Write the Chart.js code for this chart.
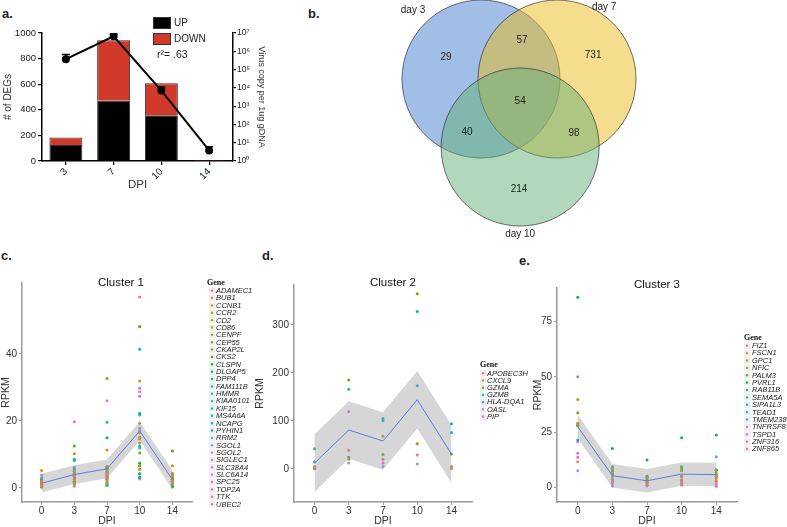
<!DOCTYPE html>
<html><head><meta charset="utf-8"><title>DEG figure</title>
<script src="https://cdn.jsdelivr.net/npm/chart.js@4.4.1/dist/chart.umd.min.js"></script>
<style>
html,body{margin:0;padding:0;background:#fff;}
body{width:787px;height:527px;position:relative;overflow:hidden;font-family:"Liberation Sans",Arial,sans-serif;}
canvas{position:absolute;}
.plbl{position:absolute;font:bold 13px/13px "Liberation Sans",Arial,sans-serif;color:#222;}
</style></head><body>
<div class="plbl" style="left:2px;top:7px">a.</div>
<div class="plbl" style="left:308px;top:7px">b.</div>
<div class="plbl" style="left:1px;top:249px">c.</div>
<div class="plbl" style="left:262px;top:249px">d.</div>
<div class="plbl" style="left:519px;top:254px">e.</div>
<canvas id="ca" width="270" height="200" style="left:0;top:0"></canvas>
<canvas id="cb" width="260" height="245" style="left:390px;top:0"></canvas>
<canvas id="cc" width="260" height="277" style="left:0;top:250px"></canvas>
<canvas id="cd" width="276" height="277" style="left:254px;top:250px"></canvas>
<canvas id="ce" width="255" height="277" style="left:532px;top:250px"></canvas>
<script>
// ================= DATA =================
// Panel a
const dpiA = ['3', '7', '10', '14'];
const degUp = [125, 470, 358, 4];
const degDown = [58, 473, 250, 3];
const virusCopy = [3.7e5, 6.6e6, 7.1e3, 3.8];
const virusCopyUpper = [6.7e5, 8.9e6, 1.1e4, 6.0];
const degTicks = [0, 200, 400, 600, 800, 1000];
const virusTickExp = [0, 1, 2, 3, 4, 5, 6, 7];
const r2Label = 'r\u00B2= .63';

// Panel b (Venn)
const vennSets = ['day 3', 'day 7', 'day 10'];
const vennRegions = ['day 3 only', 'day 7 only', 'day 10 only', 'day 3 & 7', 'day 3 & 10', 'day 7 & 10', 'all three'];
const vennCounts = [29, 731, 214, 57, 40, 98, 54];

// Panels c-e
const dpiC = ['0', '3', '7', '10', '14'];

const genes1 = ['ADAMEC1','BUB1','CCNB1','CCR2','CD2','CD86','CENPF','CEP55','CKAP2L','CKS2','CLSPN','DLGAP5','DPP4','FAM111B','HMMR','KIAA0101','KIF15','MS4A6A','NCAPG','PYHIN1','RRM2','SGOL1','SGOL2','SIGLEC1','SLC38A4','SLC6A14','SPC25','TOP2A','TTK','UBEC2'];
const rpkm1 = [
  [1.0, 2.5, 3.2, 16.5, 2.0], [1.2, 3.5, 4.3, 13.4, 3.5], [2.0, 10.2, 11.3, 31.9, 6.6], [0.5, 1.5, 2.5, 19.3, 1.0],
  [5.2, 5.0, 6.4, 15.1, 4.3], [1.5, 1.0, 1.5, 5.6, 2.0], [1.0, 2.5, 3.8, 14.6, 1.5], [0.5, 4.0, 5.4, 6.6, 2.7],
  [1.8, 5.4, 32.7, 10.4, 4.0], [2.2, 12.5, 6.0, 48.2, 11.0], [1.0, 3.0, 15.0, 7.4, 2.5], [0.7, 1.8, 5.9, 4.2, 3.0],
  [0.3, 2.0, 1.0, 3.2, 0.5], [1.2, 8.6, 3.2, 22.3, 1.5], [2.5, 4.8, 4.7, 11.9, 3.5], [1.5, 8.2, 19.6, 21.8, 2.0],
  [0.4, 1.2, 0.7, 12.5, 0.3], [3.0, 6.0, 6.4, 3.2, 4.0], [1.0, 5.0, 4.5, 41.4, 2.7], [0.6, 1.5, 2.5, 6.6, 1.0],
  [1.2, 4.3, 5.6, 17.8, 3.0], [0.3, 2.0, 3.0, 13.4, 1.5], [1.0, 0.5, 2.0, 4.2, 0.8], [2.0, 3.5, 1.5, 5.6, 4.3],
  [1.0, 4.0, 26.0, 28.7, 2.0], [0.8, 19.8, 3.0, 2.7, 1.2], [3.8, 3.0, 4.0, 29.8, 3.5], [0.5, 2.5, 5.0, 27.4, 2.0],
  [1.0, 4.0, 3.5, 17.0, 2.5], [1.8, 6.0, 5.8, 57.0, 3.0]
];
const fit1 = [1.4, 4.0, 5.7, 17.0, 2.5];
const fitLo1 = [-1.4, 1.2, 2.9, 14.2, -0.3];
const fitHi1 = [4.2, 6.8, 8.5, 19.8, 5.3];
const yTicks1 = [0, 20, 40];

const genes2 = ['APOBEC3H','CXCL9','GZMA','GZMB','HLA-DQA1','OASL','PIP'];
const rpkm2 = [
  [4, 39, 20, 29, 5], [5, 20, 68, 53, 3], [2, 185, 30, 365, 31], [42, 24, 100, 328, 94],
  [15, 166, 105, 173, 76], [0, 12, 5, 10, 0], [1, 119, 12, 52, 2]
];
const fit2 = [12, 81, 58, 144, 31];
const fitLo2 = [-48, 21, -2, 84, -29];
const fitHi2 = [72, 141, 118, 204, 91];
const yTicks2 = [0, 100, 200, 300];

const genes3 = ['FIZ1','FSCN1','GPC1','NFIC','PALM3','PVRL1','RAB11B','SEMA5A','SIPA1L3','TEAD1','TMEM238','TNFRSF8','TSPD1','ZNF316','ZNF865'];
const rpkm3 = [
  [11.6, 2.6, 1.0, 1.5, 4.8], [29.0, 6.0, 2.6, 4.8, 4.0], [28.5, 4.8, 2.0, 3.3, 3.0], [39.8, 8.6, 4.5, 7.5, 6.6],
  [33.8, 7.8, 3.3, 8.6, 7.8], [86.0, 17.6, 12.4, 22.5, 23.7], [28.0, 6.0, 3.3, 4.8, 5.0], [28.2, 9.4, 5.1, 9.4, 6.0],
  [28.0, 8.6, 5.1, 9.0, 8.0], [21.4, 7.1, 4.2, 7.5, 7.8], [50.0, 3.6, 2.6, 5.0, 13.9], [7.5, 0.6, 0.6, 1.0, 0.5],
  [15.4, 1.5, 1.0, 1.8, 0.6], [20.7, 2.6, 1.8, 2.6, 1.5], [13.6, 3.6, 2.5, 3.3, 2.6]
];
const fit3 = [27.4, 5.3, 3.0, 6.0, 5.8];
const fitLo3 = [22.1, 0.0, -2.3, 0.7, 0.5];
const fitHi3 = [32.7, 10.6, 8.3, 11.3, 11.1];
const yTicks3 = [0, 25, 50, 75];

// ================= HELPERS =================
const FONT = '"Liberation Sans", Arial, sans-serif';
Chart.defaults.font.family = FONT;
Chart.defaults.color = '#222';

function hcl2hex(h, c, l) {
  const hr = h * Math.PI / 180, u = c * Math.cos(hr), v = c * Math.sin(hr);
  const Xn = 95.047, Yn = 100, Zn = 108.883;
  const un = 4 * Xn / (Xn + 15 * Yn + 3 * Zn), vn = 9 * Yn / (Xn + 15 * Yn + 3 * Zn);
  const Y = l > 8 ? Yn * Math.pow((l + 16) / 116, 3) : Yn * l / 903.3;
  const up = u / (13 * l) + un, vp = v / (13 * l) + vn;
  const X = Y * 9 * up / (4 * vp), Z = Y * (12 - 3 * up - 20 * vp) / (4 * vp);
  const x = X / 100, y = Y / 100, z = Z / 100;
  const lin = [3.2404542 * x - 1.5371385 * y - 0.4985314 * z,
               -0.9692660 * x + 1.8760108 * y + 0.0415560 * z,
               0.0556434 * x - 0.2040259 * y + 1.0572252 * z];
  return '#' + lin.map(cc => {
    let s = cc <= 0.0031308 ? 12.92 * cc : 1.055 * Math.pow(cc, 1 / 2.4) - 0.055;
    s = Math.max(0, Math.min(1, s));
    return Math.round(s * 255).toString(16).padStart(2, '0');
  }).join('');
}
function huePal(n) { const o = []; for (let i = 0; i < n; i++) o.push(hcl2hex(15 + 360 * i / n, 100, 65)); return o; }
const SUP = '\u2070\u00B9\u00B2\u00B3\u2074\u2075\u2076\u2077\u2078\u2079';

// ================= PANEL A =================
const panelAPlugin = {
  id: 'panelA',
  afterDatasetsDraw(chart) {
    const ctx = chart.ctx, xs = chart.scales.x, yr = chart.scales.yR;
    ctx.save();
    ctx.strokeStyle = '#000'; ctx.lineWidth = 1.5;
    virusCopy.forEach((v, i) => {
      const x = xs.getPixelForValue(i), y0 = yr.getPixelForValue(v), y1 = yr.getPixelForValue(virusCopyUpper[i]);
      ctx.beginPath(); ctx.moveTo(x, y0); ctx.lineTo(x, y1); ctx.moveTo(x - 4, y1); ctx.lineTo(x + 4, y1); ctx.stroke();
    });
    const bars = chart.data.datasets.filter(d => d.type === 'bar');
    bars.forEach((d, k) => {
      const y = 17 + k * 16;
      ctx.fillStyle = d.backgroundColor; ctx.fillRect(153, y, 17, 11);
      ctx.strokeStyle = '#333'; ctx.lineWidth = 1; ctx.strokeRect(153.5, y + 0.5, 17, 11);
      ctx.fillStyle = '#222'; ctx.font = '10px ' + FONT; ctx.textBaseline = 'middle'; ctx.textAlign = 'left';
      ctx.fillText(d.label, 174, y + 6);
    });
    ctx.font = '10.5px ' + FONT; ctx.fillStyle = '#222'; ctx.fillText(r2Label, 157, 55);
    ctx.restore();
  }
};

new Chart(document.getElementById('ca'), {
  data: {
    labels: dpiA,
    datasets: [
      { type: 'line', label: 'Virus copy', data: virusCopy, yAxisID: 'yR', borderColor: '#000', borderWidth: 2,
        pointRadius: 3, pointBackgroundColor: '#000', pointBorderColor: '#000', order: 0 },
      { type: 'bar', label: 'UP', data: degUp, yAxisID: 'y', backgroundColor: '#000000', borderColor: '#333', borderWidth: 1,
        barPercentage: 0.69, categoryPercentage: 1.0, order: 1 },
      { type: 'bar', label: 'DOWN', data: degDown, yAxisID: 'y', backgroundColor: '#d13a2b', borderColor: '#333', borderWidth: 1,
        barPercentage: 0.69, categoryPercentage: 1.0, order: 1 }
    ]
  },
  options: {
    responsive: false, animation: false, devicePixelRatio: 1, events: [],
    layout: { padding: { top: 33, right: 0, left: 0, bottom: 0 } },
    plugins: { legend: { display: false }, tooltip: { enabled: false } },
    scales: {
      x: {
        type: 'category', stacked: true, offset: true,
        afterFit: s => { s.height = 39; },
        grid: { display: true, drawOnChartArea: false, drawTicks: true, tickLength: 4, color: '#000', lineWidth: 1.2, offset: false },
        border: { display: true, color: '#000', width: 1.5 },
        ticks: { font: { size: 10 }, color: '#222', minRotation: 45, maxRotation: 45, padding: 1, autoSkip: false },
        title: { display: true, text: 'DPI', font: { size: 11.5 }, color: '#333', padding: { top: 0, bottom: 8 } }
      },
      y: {
        type: 'linear', position: 'left', stacked: true, min: 0, max: 1000,
        afterBuildTicks: s => { s.ticks = degTicks.map(v => ({ value: v })); },
        afterFit: s => { s.width = 42; },
        grid: { display: true, drawOnChartArea: false, drawTicks: true, tickLength: 4, color: '#000', lineWidth: 1.2 },
        border: { display: true, color: '#000', width: 1.5 },
        ticks: { font: { size: 9.5 }, color: '#222', padding: 2, callback: v => String(v) },
        title: { display: true, text: '# of DEGs', font: { size: 10 }, color: '#333', padding: { top: 2, bottom: 0 } }
      },
      yR: {
        type: 'logarithmic', position: 'right', min: 1, max: 1e7,
        afterBuildTicks: s => { s.ticks = virusTickExp.map(e => ({ value: Math.pow(10, e) })); },
        afterFit: s => { s.width = 37; },
        grid: { display: true, drawOnChartArea: false, drawTicks: true, tickLength: 3, color: '#000', lineWidth: 1.2 },
        border: { display: true, color: '#000', width: 1.5 },
        ticks: { font: { size: 8.5 }, color: '#222', padding: 1,
                 callback: v => '10' + SUP[Math.round(Math.log10(v))] },
        title: { display: true, text: 'Virus copy per 1ug gDNA', font: { size: 9 }, color: '#333', padding: { top: 3, bottom: 0 } }
      }
    }
  },
  plugins: [panelAPlugin]
});

// ================= PANEL B (Venn) =================
const vennGeom = {
  centers: [[-1.0, 0.0], [1.0, 0.0], [0.03, -1.79]],
  radiusPx: 79,
  regionPos: [[-1.92, 0.58], [1.95, 0.63], [0.0, -2.89], [0.08, 1.03], [-1.37, -1.40], [1.45, -1.42], [0.03, -0.58]],
  setPos: [[-2.79, 1.82], [2.24, 1.90], [0.03, -4.08]],
  fills: ['rgba(65,125,205,0.5)', 'rgba(235,188,30,0.5)', 'rgba(101,177,121,0.5)'],
  drawOrder: [2, 1, 0]
};
const vennPlugin = {
  id: 'vennLabels',
  afterDatasetsDraw(chart) {
    const ctx = chart.ctx, xs = chart.scales.x, ys = chart.scales.y;
    ctx.save(); ctx.fillStyle = '#222'; ctx.textAlign = 'center'; ctx.textBaseline = 'middle';
    ctx.font = '10px ' + FONT;
    vennCounts.forEach((c, i) => {
      const p = vennGeom.regionPos[i];
      ctx.fillText(String(c), xs.getPixelForValue(p[0]), ys.getPixelForValue(p[1]));
    });
    vennSets.forEach((s, i) => {
      const p = vennGeom.setPos[i];
      ctx.fillText(s, xs.getPixelForValue(p[0]), ys.getPixelForValue(p[1]));
    });
    ctx.restore();
  }
};
new Chart(document.getElementById('cb'), {
  type: 'bubble',
  data: {
    datasets: vennSets.map((s, i) => ({
      label: s,
      data: [{ x: vennGeom.centers[i][0], y: vennGeom.centers[i][1], r: vennGeom.radiusPx }],
      backgroundColor: vennGeom.fills[i], borderColor: 'rgba(45,45,45,0.85)', borderWidth: 0.8, clip: false,
      order: vennGeom.drawOrder[i]
    }))
  },
  options: {
    responsive: false, animation: false, devicePixelRatio: 1, events: [],
    layout: { padding: 0, autoPadding: false },
    plugins: { legend: { display: false }, tooltip: { enabled: false } },
    scales: {
      x: { type: 'linear', display: false, min: -3.395, max: 3.447 },
      y: { type: 'linear', display: false, min: -4.368, max: 2.079 }
    }
  },
  plugins: [vennPlugin]
});

// ================= PANELS C-E =================
function clusterChart(id, title, genes, table, fit, lo, hi, yMin, yMax, yTicks, L) {
  const cols = huePal(genes.length);
  const datasets = genes.map((g, k) => ({
    type: 'scatter', label: g, data: table[k].map((v, i) => ({ x: i, y: v })),
    backgroundColor: cols[k], borderWidth: 0, pointRadius: 1.5, order: 3
  }));
  datasets.push({ type: 'line', label: '_upper', data: hi.map((v, i) => ({ x: i, y: v })), borderWidth: 0, borderColor: 'rgba(0,0,0,0)',
    pointRadius: 0, fill: '+1', backgroundColor: 'rgba(153,153,153,0.4)', tension: 0, order: 2 });
  datasets.push({ type: 'line', label: '_lower', data: lo.map((v, i) => ({ x: i, y: v })), borderWidth: 0, borderColor: 'rgba(0,0,0,0)',
    pointRadius: 0, fill: false, tension: 0, order: 2 });
  datasets.push({ type: 'line', label: '_fit', data: fit.map((v, i) => ({ x: i, y: v })), borderColor: '#5b79e8', borderWidth: 1,
    pointRadius: 0, fill: false, tension: 0, order: 1 });

  const legendPlugin = {
    id: 'geneLegend_' + id,
    afterDraw(chart) {
      const ctx = chart.ctx; ctx.save();
      ctx.textBaseline = 'middle'; ctx.textAlign = 'left';
      ctx.fillStyle = '#111'; ctx.font = 'bold 8px "Liberation Serif", "DejaVu Serif", serif';
      ctx.fillText('Gene', L.gx, L.y0 - 8);
      chart.data.datasets.filter(d => d.type === 'scatter').forEach((d, k) => {
        const y = L.y0 + k * L.step;
        ctx.fillStyle = '#efefef'; ctx.fillRect(L.dx - 3, y - 3.3, 6.6, 6.6);
        ctx.fillStyle = d.backgroundColor; ctx.beginPath(); ctx.arc(L.dx, y, 1.2, 0, 2 * Math.PI); ctx.fill();
        ctx.fillStyle = '#222'; ctx.font = 'italic 7.5px ' + FONT; ctx.fillText(d.label, L.tx, y + 0.3);
      });
      ctx.fillStyle = '#111'; ctx.font = '11.5px ' + FONT; ctx.textAlign = 'center';
      ctx.fillText(title, L.titleX, L.titleY);
      ctx.restore();
    }
  };

  const axisCol = '#9a9a9a';
  return new Chart(document.getElementById(id), {
    type: 'scatter',
    data: { datasets },
    options: {
      responsive: false, animation: false, devicePixelRatio: 1, events: [],
      layout: { padding: { top: L.padTop, right: L.padRight, left: 0, bottom: 0 } },
      plugins: { legend: { display: false }, tooltip: { enabled: false } },
      scales: {
        x: {
          type: 'linear', min: -0.6, max: 4.6,
          afterBuildTicks: s => { s.ticks = dpiC.map((_, i) => ({ value: i })); },
          afterFit: s => { s.height = 25; },
          grid: { display: true, drawOnChartArea: false, drawTicks: true, tickLength: 3, color: axisCol, lineWidth: 1 },
          border: { display: true, color: axisCol, width: 1.5 },
          ticks: { font: { size: 10 }, color: '#333', padding: 0, autoSkip: false, maxRotation: 0,
                   callback: v => dpiC[Math.round(v)] },
          title: { display: true, text: 'DPI', font: { size: 10.5 }, color: '#333', padding: { top: 0, bottom: 0 } }
        },
        y: {
          type: 'linear', min: yMin, max: yMax,
          afterBuildTicks: s => { s.ticks = yTicks.map(v => ({ value: v })); },
          afterFit: s => { s.width = L.yw; },
          grid: { display: true, drawOnChartArea: false, drawTicks: true, tickLength: 3, color: axisCol, lineWidth: 1 },
          border: { display: true, color: axisCol, width: 1.5 },
          ticks: { font: { size: 10 }, color: '#333', padding: 2 },
          title: { display: true, text: 'RPKM', font: { size: 10.5 }, color: '#333', padding: { top: 0, bottom: 0 } }
        }
      }
    },
    plugins: [legendPlugin]
  });
}

clusterChart('cc', 'Cluster 1', genes1, rpkm1, fit1, fitLo1, fitHi1, -4.2, 61.2, yTicks1,
  { yw: 22, padTop: 33, padRight: 68, gx: 207, dx: 212, tx: 216, y0: 40.7, step: 7.36, titleX: 121, titleY: 33 });
clusterChart('cd', 'Cluster 2', genes2, rpkm2, fit2, fitLo2, fitHi2, -69, 383, yTicks2,
  { yw: 40, padTop: 35, padRight: 58, gx: 226, dx: 229, tx: 233, y0: 123.3, step: 7.2, titleX: 139, titleY: 33 });
clusterChart('ce', 'Cluster 3', genes3, rpkm3, fit3, fitLo3, fitHi3, -6.6, 90.2, yTicks3,
  { yw: 25, padTop: 38, padRight: 50, gx: 212, dx: 215, tx: 220, y0: 95.7, step: 7.38, titleX: 125, titleY: 35 });
</script>
</body></html>
